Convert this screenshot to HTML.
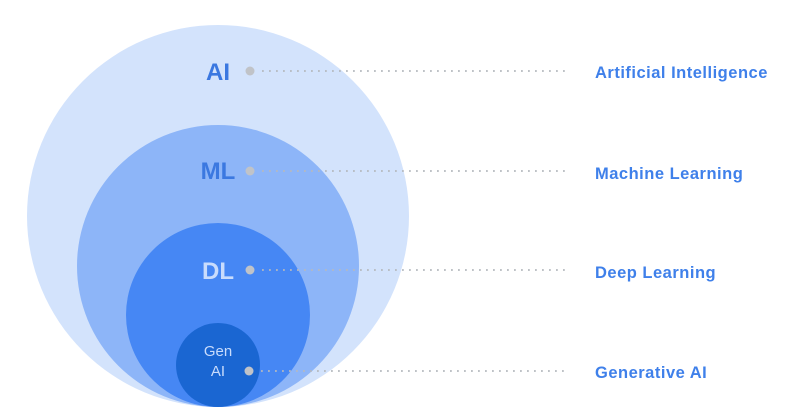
<!DOCTYPE html>
<html><head><style>
body{margin:0;width:796px;height:413px;background:#fff;overflow:hidden}
</style></head><body>
<svg width="796" height="413" xmlns="http://www.w3.org/2000/svg" font-family="Liberation Sans, sans-serif">
<circle cx="218" cy="216" r="191" fill="#d3e3fc"/>
<circle cx="218" cy="266" r="141" fill="#8db5f8"/>
<circle cx="218" cy="315" r="92" fill="#4687f4"/>
<circle cx="218" cy="365" r="42" fill="#1a66d2"/>
<g font-weight="bold" text-anchor="middle">
<text x="218" y="80" font-size="24" fill="#3b78e0">AI</text>
<text x="218" y="179" font-size="24" fill="#3b78e0">ML</text>
<text x="218" y="279" font-size="24" fill="#c9dcfc">DL</text>
<text x="218" y="356" font-size="15" fill="#c9dcfc" font-weight="normal">Gen</text>
<text x="218" y="376" font-size="15" fill="#c9dcfc" font-weight="normal">AI</text>
</g>
<g fill="#c0c3c8">
<circle cx="250" cy="71" r="4.5"/><circle cx="250" cy="171" r="4.5"/>
<circle cx="250" cy="270" r="4.5"/><circle cx="249" cy="371" r="4.5"/>
</g>
<g stroke="#b5b9bf" stroke-width="1.8" stroke-dasharray="1.8 5.2">
<line x1="262" y1="71" x2="566" y2="71"/><line x1="262" y1="171" x2="566" y2="171"/>
<line x1="262" y1="270" x2="566" y2="270"/><line x1="261" y1="371" x2="566" y2="371"/>
</g>
<g font-weight="bold" font-size="16.5" fill="#3f80ea" letter-spacing="0.5">
<text x="595" y="78">Artificial Intelligence</text>
<text x="595" y="179">Machine Learning</text>
<text x="595" y="278">Deep Learning</text>
<text x="595" y="378">Generative AI</text>
</g>
</svg>
</body></html>
